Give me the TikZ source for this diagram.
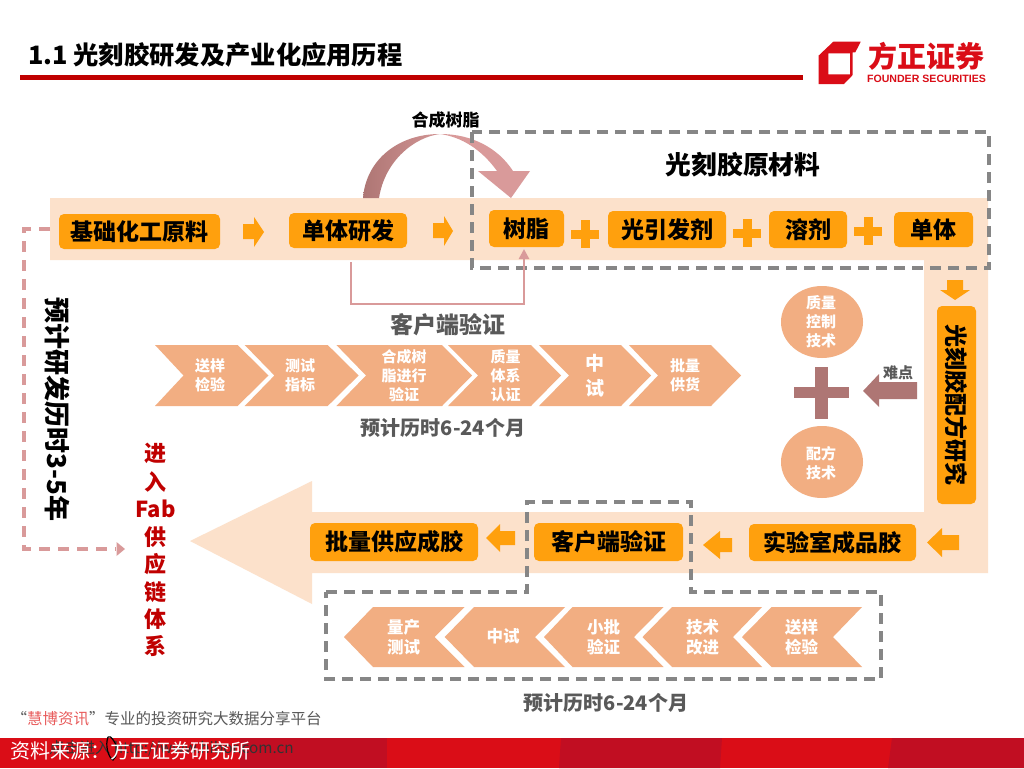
\documentclass[tikz,border=0pt]{standalone}
\usepackage{fontspec}
\setmainfont{Noto Sans CJK SC}
\newfontfamily\latinbold{Liberation Sans}[Scale=1]
\usetikzlibrary{arrows.meta,shapes.geometric}
\definecolor{bandc}{HTML}{FCE1CB}
\definecolor{orangec}{HTML}{FFA00D}
\definecolor{chevc}{HTML}{F2AE82}
\definecolor{mauvec}{HTML}{AE7674}
\definecolor{pinkc}{HTML}{D99A9A}
\definecolor{grayd}{HTML}{868686}
\definecolor{txtg}{HTML}{595959}
\definecolor{brightred}{HTML}{DA0D17}
\definecolor{darkred}{HTML}{C10E22}
\definecolor{titlered}{HTML}{C00000}
\newcommand{\fs}[2]{\fontsize{#1}{#2}\selectfont}
\newcommand{\boxnode}[7]{% name, x1,y1,x2,y2, rotation, text
  \node[orangebox,minimum width=#4pt-#2pt,minimum height=#5pt-#3pt,rotate=#6] (#1) at ({(#2+#4)/2},{(#3+#5)/2}) {#7};}
\newcommand{\plussign}[2]{%
  \fill[orangec] (#1-14,#2-4.5) rectangle (#1+14,#2+4.5);
  \fill[orangec] (#1-4.5,#2-14) rectangle (#1+4.5,#2+14);}
\tikzset{
  x=1pt,y=-1pt,
  orangebox/.style={fill=orangec,rounded corners=5pt,inner sep=0pt,font=\bfseries\fs{23}{23},text=black},
  chevron/.style={fill=chevc,draw=none},
  chevtext/.style={text=white,font=\bfseries\fs{15}{19},align=center,inner sep=0pt},
  chevtextb/.style={text=white,font=\bfseries\fs{16.5}{20},align=center,inner sep=0pt},
  graylabel/.style={text=txtg,font=\bfseries\fs{20}{20},inner sep=0pt},
  graydash/.style={draw=grayd,line width=3.2pt,dash pattern=on 11pt off 7pt},
  pinkdash/.style={draw=pinkc,line width=3.2pt,dash pattern=on 11pt off 8pt},
  blockarrow/.style={fill=orangec},
}
\begin{document}
\begin{tikzpicture}
\useasboundingbox (0,0) rectangle (1024,768);
\fill[white] (0,0) rectangle (1024,768);
% header
\node[anchor=west,inner sep=0pt,font=\bfseries\fs{25.3}{25.3}] (title) at (28,55) {1.1 光刻胶研发及产业化应用历程};
\fill[titlered] (20,75) rectangle (803,80);
% logo
\fill[brightred,even odd rule] (818.5,55.7) -- (833.3,41.7) -- (860.7,41.7) -- (855.3,52.3) -- (852.7,52.3) -- (852.7,75) -- (844,84) -- (818.5,84) -- cycle
  (828.3,53.3) -- (850,53.3) -- (850,74.3) -- (828.3,74.3) -- cycle;
\node[anchor=center,inner sep=0pt,text=brightred,font=\bfseries\fs{29}{29}] (logocn) at (926.5,56) {方正证券};
\node[anchor=center,inner sep=0pt,text=brightred,font=\latinbold\bfseries\fs{10.6}{11}] (logoen) at (926.5,79) {FOUNDER SECURITIES};
% bands
\fill[bandc] (50,198) -- (988,198) -- (988,573) -- (312,573) -- (312,604) -- (190,541) -- (312,481) -- (312,512) -- (924,512) -- (924,260) -- (50,260) -- cycle;
% curved arrow
\shade[left color=mauvec,right color=pinkc!85!mauvec]
  (363,198) .. controls (366,160) and (398,134) .. (440,134)
  .. controls (415,137) and (385,160) .. (379,198) -- cycle;
\fill[pinkc] (440,134) .. controls (472,134) and (498,148) .. (513,171) -- (530,171) -- (511,198) -- (478,171) -- (497,171)
  .. controls (482,150) and (462,137) .. (440,134) -- cycle;
\node[inner sep=0pt,font=\bfseries\fs{17}{17}] (hecheng) at (445.5,120) {合成树脂};
% orange boxes
\boxnode{jichu}{59}{214}{220}{249}{0}{基础化工原料}
\boxnode{danti}{289}{213}{407}{248}{0}{单体研发}
\boxnode{shuzhi}{489}{210}{564}{247}{0}{树脂}
\boxnode{guangyin}{608}{211}{726}{248}{0}{光引发剂}
\boxnode{rongji}{769}{211}{847}{248}{0}{溶剂}
\boxnode{dantib}{894}{212}{973}{247}{0}{单体}
\node[orangebox,minimum width=198pt,minimum height=39pt,rotate=-90] (peifang) at (956.5,405) {光刻胶配方研究};
\boxnode{shiyan}{749}{524}{916}{561}{0}{实验室成品胶}
\boxnode{kehu}{534}{523}{683}{561}{0}{客户端验证}
\boxnode{piliang}{310}{523}{478}{561}{0}{批量供应成胶}
% small arrows
\fill[blockarrow] (243,224) -- (254,224) -- (254,217) -- (264,232) -- (254,247) -- (254,239) -- (243,239) -- cycle;
\fill[blockarrow] (433,223) -- (444,223) -- (444,216) -- (453,231) -- (444,246) -- (444,238) -- (433,238) -- cycle;
\plussign{585}{234}
\plussign{747}{233}
\plussign{868}{231}
\fill[blockarrow] (947,280) -- (963,280) -- (963,290) -- (970,290) -- (955,300) -- (940,290) -- (947,290) -- cycle;
\fill[blockarrow] (959,535) -- (942,535) -- (942,528) -- (927,542.5) -- (942,557) -- (942,550) -- (959,550) -- cycle;
\fill[blockarrow] (732,538) -- (720,538) -- (720,531) -- (703,545) -- (720,559) -- (720,552) -- (732,552) -- cycle;
\fill[blockarrow] (515,531) -- (500,531) -- (500,524) -- (486,538) -- (500,552) -- (500,545) -- (515,545) -- cycle;
% dashed frames
\draw[graydash] (472,132) rectangle (989,268);
\node[inner sep=0pt,font=\bfseries\fs{25.7}{25.7}] (rawmat) at (743,165) {光刻胶原材料};
\draw[graydash] (326,592) -- (527,592) -- (527,502) -- (691,502) -- (691,592) -- (881,592) -- (881,679) -- (326,679) -- cycle;
% customer validation connector
\coordinate (cl1) at (351,304);
\coordinate (cl2) at (524,304);
\draw[draw=pinkc,line width=2.6pt,-{Triangle[length=10pt,width=10pt]}] (351,262) -- (cl1) -- (cl2) -- (524,249);
\node[inner sep=0pt,text=txtg,font=\bfseries\fs{23}{23}] (kehutxt) at (448,325) {客户端验证};
% upper chevrons
\fill[chevron] (155,345) -- (237.6,345) -- (268.5,375.5) -- (237.6,406) -- (155,406) -- (183.5,375.5) -- cycle;
\fill[chevron] (244.7,345) -- (327.7,345) -- (358.6,375.5) -- (327.7,406) -- (244.7,406) -- (274.4,375.5) -- cycle;
\fill[chevron] (336.4,345) -- (442,345) -- (472,375.5) -- (442,406) -- (336.4,406) -- (366,375.5) -- cycle;
\fill[chevron] (448,345) -- (531,345) -- (561,375.5) -- (531,406) -- (448,406) -- (478,375.5) -- cycle;
\fill[chevron] (539,345) -- (621,345) -- (651,375.5) -- (621,406) -- (539,406) -- (569,375.5) -- cycle;
\fill[chevron] (629,345) -- (711,345) -- (741,375.5) -- (711,406) -- (629,406) -- (658,375.5) -- cycle;
\node[chevtext] (u1) at (210,375) {送样\\检验};
\node[chevtext] (u2) at (300,375) {测试\\指标};
\node[chevtext] (u3) at (404,376) {合成树\\脂进行\\验证};
\node[chevtext] (u4) at (505.5,376) {质量\\体系\\认证};
\node[chevtext,font=\bfseries\fs{19}{25}] (u5) at (595,376) {中\\试};
\node[chevtext] (u6) at (685,375) {批量\\供货};
\node[graylabel] (t1) at (443,428) {预计历时6-24个月};
% circles and plus
\node[ellipse,fill=chevc,minimum width=82pt,minimum height=72pt,inner sep=0pt] (c1) at (822,322) {};
\node[ellipse,fill=chevc,minimum width=82pt,minimum height=72pt,inner sep=0pt] (c2) at (822,462) {};
\node[chevtext] (c1t) at (821,322) {质量\\控制\\技术};
\node[chevtext] (c2t) at (821,463) {配方\\技术};
\fill[mauvec] (794,387) rectangle (849,398);
\fill[mauvec] (815,367) rectangle (828,419);
\fill[mauvec] (917,382) -- (879,382) -- (879,374) -- (863,391) -- (879,407) -- (879,399) -- (917,399) -- cycle;
\node[inner sep=0pt,text=txtg,font=\bfseries\fs{15}{15}] (nan) at (898,373) {难点};
% lower chevrons
\fill[chevron] (344,637) -- (373,607) -- (464.6,607) -- (434.7,637) -- (464.6,667) -- (373,667) -- cycle;
\fill[chevron] (444.7,637) -- (474,607) -- (565,607) -- (535,637) -- (565,667) -- (474,667) -- cycle;
\fill[chevron] (544,637) -- (572.5,607) -- (663.6,607) -- (634,637) -- (663.6,667) -- (572.5,667) -- cycle;
\fill[chevron] (642.5,637) -- (672,607) -- (762,607) -- (733,637) -- (762,667) -- (672,667) -- cycle;
\fill[chevron] (742,637) -- (771.5,607) -- (862,607) -- (833,637) -- (862,667) -- (771.5,667) -- cycle;
\node[chevtextb] (l1) at (403.7,637) {量产\\测试};
\node[chevtextb] (l2) at (503,636) {中试};
\node[chevtextb] (l3) at (603.5,637) {小批\\验证};
\node[chevtextb] (l4) at (702.6,637) {技术\\改进};
\node[chevtextb] (l5) at (801.7,637) {送样\\检验};
\node[graylabel] (t2) at (606,703) {预计历时6-24个月};
% left dashed connector
\coordinate (d0) at (50,229);
\coordinate (d1) at (24,229);
\coordinate (d2) at (24,549);
\coordinate (d3) at (125,549);
\draw[pinkdash] (d0) -- (d1) -- (d2) -- (116,549);
\fill[pinkc] (d3) -- (116.5,542) -- (116.5,556) -- cycle;
\node[rotate=-90,inner sep=0pt,font=\bfseries\fs{26}{26}] (yj) at (57,409.5) {预计研发历时3-5年};
% Fab
\foreach \t/\y/\n in {进/453/a,入/482/b,Fab/509/c,供/537/d,应/564/e,链/592/f,体/619/g,系/646/h}
  \node[inner sep=0pt,text=titlered,font=\bfseries\fs{22}{22}] (fab\n) at (155.5,\y) {\t};
% footer
\fill[brightred] (0,738) rectangle (1024,768);
\fill[darkred] (240,738) rectangle (387,768);
\fill[darkred] (561,738) -- (559,768) -- (720,768) -- (722,738) -- cycle;
\fill[darkred] (892,738) -- (888,768) -- (1024,768) -- (1024,738) -- cycle;
\node[anchor=west,inner sep=0pt,font=\fs{15.5}{16}] (ad) at (11.5,719) {\textcolor{txtg}{“}\textcolor{pinkc!60!red}{慧博资讯}\textcolor{txtg}{”专业的投资研究大数据分享平台}};
\node[anchor=west,inner sep=0pt,text=black!80,font=\fs{15.3}{16}] (lnk) at (49,749) {点击进入 http://www.hibor.com.cn};
\draw[black,line width=1.2pt] (108,737) .. controls (105,745) and (108,757) .. (113,760) .. controls (118,756) and (117,750) .. (116,745) .. controls (114,741) and (111,735) .. (108,737);
\node[anchor=west,inner sep=0pt,text=white,font=\fs{20}{20}] (src) at (10,751) {资料来源：方正证券研究所};
\end{tikzpicture}
\end{document}
